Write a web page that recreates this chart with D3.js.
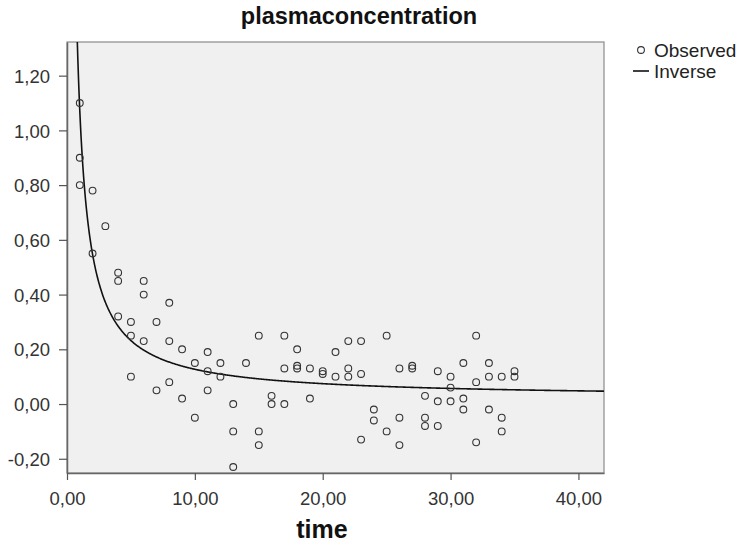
<!DOCTYPE html>
<html>
<head>
<meta charset="utf-8">
<script src="https://cdn.jsdelivr.net/npm/d3@7"></script>
<style>
html,body{margin:0;padding:0;background:#fff;}
svg{display:block;}
</style>
</head>
<body>
<svg id="chart" width="742" height="545"></svg>
<script>
// ---- data ----
const chartTitle = "plasmaconcentration";
const xLabel = "time";
const seriesNames = ["Observed", "Inverse"];
const timeValues = [
  1,1,1, 2,2, 3, 4,4,4, 5,5,5, 6,6,6, 7,7, 8,8,8, 9,9, 10,10, 11,11,11, 12,12,
  13,13,13, 14, 15,15,15, 16,16, 17,17,17, 18,18,18, 19,19, 20,20, 21,21,
  22,22,22, 23,23,23, 24,24, 25,25, 26,26,26, 27,27, 28,28,28, 29,29,29,
  30,30,30, 31,31,31, 32,32,32, 33,33,33, 34,34,34, 35,35
];
const concValues = [
  1.10,0.90,0.80, 0.78,0.55, 0.65, 0.48,0.45,0.32, 0.30,0.25,0.10, 0.45,0.40,0.23,
  0.30,0.05, 0.37,0.23,0.08, 0.20,0.02, 0.15,-0.05, 0.19,0.12,0.05, 0.15,0.10,
  0.00,-0.10,-0.23, 0.15, 0.25,-0.10,-0.15, 0.03,0.00, 0.25,0.13,0.00,
  0.20,0.14,0.13, 0.13,0.02, 0.12,0.11, 0.19,0.10, 0.23,0.13,0.10,
  0.23,0.11,-0.13, -0.02,-0.06, 0.25,-0.10, 0.13,-0.05,-0.15, 0.14,0.13,
  0.03,-0.05,-0.08, 0.12,0.01,-0.08, 0.10,0.06,0.01, 0.15,0.02,-0.02,
  0.25,0.08,-0.14, 0.15,0.10,-0.02, 0.10,-0.05,-0.10, 0.12,0.10
];
// Inverse model  y = b0 + b1 / t
const inverseCoef = [0.022, 1.05];
const xTicks = [0, 10, 20, 30, 40];
const yTicks = [-0.2, 0, 0.2, 0.4, 0.6, 0.8, 1.0, 1.2];
const xDomain = [0, 42];
const yDomain = [-0.252, 1.323];

// ---- layout ----
const svg = d3.select("#chart");
const L = 67, R = 604, T = 42, B = 473;
const x = d3.scaleLinear().domain(xDomain).range([L, R]);
const y = d3.scaleLinear().domain(yDomain).range([B, T]);
const fmt = v => d3.format(".2f")(v).replace(".", ",").replace("−", "-");
const FONT = "'Liberation Sans', Arial, sans-serif";

// plot background
svg.append("rect").attr("x", L).attr("y", T).attr("width", R - L).attr("height", B - T)
  .attr("fill", "#f0f0f0").attr("stroke", "#8a8a8a").attr("stroke-width", 1.2);

// clip
svg.append("clipPath").attr("id", "clip").append("rect")
  .attr("x", L).attr("y", T).attr("width", R - L).attr("height", B - T);

// axes
const xAxis = d3.axisBottom(x).tickValues(xTicks).tickFormat(fmt).tickSize(7).tickSizeOuter(0);
const yAxis = d3.axisLeft(y).tickValues(yTicks).tickFormat(fmt).tickSize(8).tickSizeOuter(0);

const gx = svg.append("g").attr("transform", `translate(0,${B})`).call(xAxis);
const gy = svg.append("g").attr("transform", `translate(${L},0)`).call(yAxis);
[gx, gy].forEach(g => {
  g.select(".domain").attr("stroke", "#666").attr("stroke-width", 1.5);
  g.selectAll(".tick line").attr("stroke", "#555").attr("stroke-width", 1.2);
  g.selectAll(".tick text").attr("fill", "#333").style("font-family", FONT).style("font-size", "18.5px");
});
gx.selectAll(".tick text").attr("dy", "0").attr("y", 32);
gy.selectAll(".tick text").attr("x", -17).attr("dy", "0.36em");

// curve
const curveT = d3.range(0.5, 42.01, 0.05);
const line = d3.line().x(t => x(t)).y(t => y(inverseCoef[0] + inverseCoef[1] / t));
svg.append("path").datum(curveT).attr("clip-path", "url(#clip)")
  .attr("d", line).attr("fill", "none").attr("stroke", "#111").attr("stroke-width", 1.6);

// points
svg.append("g").selectAll("circle").data(timeValues.map((t, i) => [t, concValues[i]]))
  .join("circle")
  .attr("cx", d => x(d[0])).attr("cy", d => y(d[1])).attr("r", 3.4)
  .attr("fill", "none").attr("stroke", "#333").attr("stroke-width", 1.1);

// title
svg.append("text").attr("x", 359).attr("y", 24).attr("text-anchor", "middle")
  .style("font-family", FONT).style("font-weight", "bold").style("font-size", "23.5px")
  .attr("fill", "#111").text(chartTitle);

// x label
svg.append("text").attr("x", 322).attr("y", 538).attr("text-anchor", "middle")
  .style("font-family", FONT).style("font-weight", "bold").style("font-size", "25px")
  .attr("fill", "#111").text(xLabel);

// legend
const lg = svg.append("g");
lg.append("circle").attr("cx", 641).attr("cy", 50).attr("r", 3.4)
  .attr("fill", "none").attr("stroke", "#333").attr("stroke-width", 1.1);
lg.append("line").attr("x1", 633).attr("x2", 649).attr("y1", 71).attr("y2", 71)
  .attr("stroke", "#111").attr("stroke-width", 1.6);
lg.selectAll("text").data(seriesNames).join("text")
  .attr("x", 654).attr("y", (d, i) => 57 + i * 21)
  .style("font-family", FONT).style("font-size", "19px").attr("fill", "#222").text(d => d);
</script>
</body>
</html>
